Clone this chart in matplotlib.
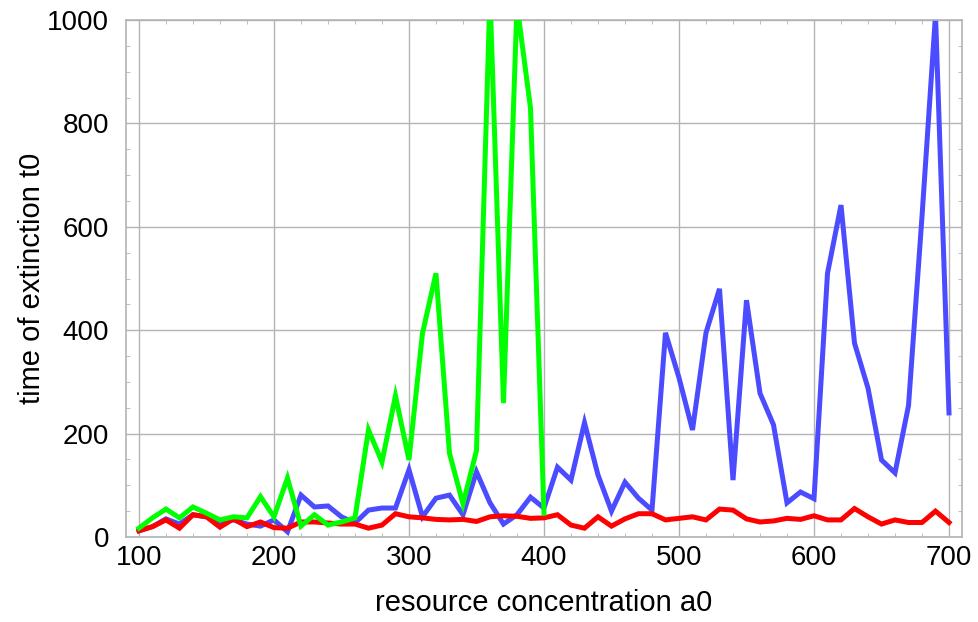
import numpy as np
import matplotlib.pyplot as plt
from matplotlib.ticker import MultipleLocator

plt.rcParams['font.family'] = ['Liberation Sans', 'DejaVu Sans']

# resource concentration a0
a0 = list(range(100, 710, 10))
a0_green = list(range(100, 410, 10))

# time of extinction t0 per series
t0_red = [12, 20, 33, 17, 43, 39, 19, 35, 20, 29, 18, 17, 29, 29, 27, 25, 25, 17, 23, 45,
          39, 37, 34, 33, 34, 30, 39, 41, 40, 36, 37, 43, 23, 17, 39, 21, 35, 45, 45, 33,
          36, 39, 33, 54, 52, 35, 29, 31, 36, 34, 41, 33, 33, 55, 39, 25, 33, 28, 28, 50,
          28]
t0_blue = [12, 20, 35, 25, 43, 39, 29, 33, 25, 21, 33, 10, 81, 58, 60, 39, 27, 52, 56, 56,
           130, 39, 75, 81, 43, 126, 66, 25, 43, 77, 56, 135, 110, 221, 120, 50, 106, 75, 52, 395,
           308, 207, 395, 480, 110, 458, 278, 217, 66, 87, 74, 510, 642, 375, 288, 149, 124, 254, 620, 1010,
           240]
t0_green = [17, 37, 54, 37, 58, 46, 33, 39, 37, 78, 39, 114, 21, 43, 23, 29, 37, 207, 145, 273,
            149, 394, 510, 162, 64, 167, 1050, 259, 1030, 830, 46]

fig, ax = plt.subplots(figsize=(9.79, 6.22), dpi=100)
fig.subplots_adjust(left=0.1287, right=0.9826, bottom=0.1367, top=0.9678)

lw = 3.6
ax.plot(a0, t0_red, color='#ff0000', lw=lw, solid_joinstyle='miter', zorder=3)
ax.plot(a0, t0_blue, color='#4b4bff', lw=lw, solid_joinstyle='miter', zorder=2)
ax.plot(a0_green, t0_green, color='#00ff00', lw=lw, solid_joinstyle='miter', zorder=4)

ax.set_xlim(90.4, 709.6)
ax.set_ylim(0, 1000)
ax.xaxis.set_major_locator(MultipleLocator(100))
ax.yaxis.set_major_locator(MultipleLocator(200))
ax.xaxis.set_minor_locator(MultipleLocator(20))
ax.yaxis.set_minor_locator(MultipleLocator(50))
ax.grid(True, which='major', color='#b3b3b3', lw=1.0)
ax.set_axisbelow(True)

ax.tick_params(which='both', direction='in', top=True, right=True, color='#b3b3b3')
ax.tick_params(which='major', length=0, labelsize=20)
ax.tick_params(axis='x', which='major', pad=6)
ax.tick_params(axis='y', which='major', pad=12)
ax.tick_params(which='minor', length=3)
for s in ax.spines.values():
    s.set_color('#b3b3b3')
    s.set_linewidth(1.2)

ax.set_xlabel('resource concentration a0', fontsize=21, labelpad=13)
ax.set_ylabel('time of extinction t0', fontsize=21, labelpad=1)

fig.savefig('out.png')
